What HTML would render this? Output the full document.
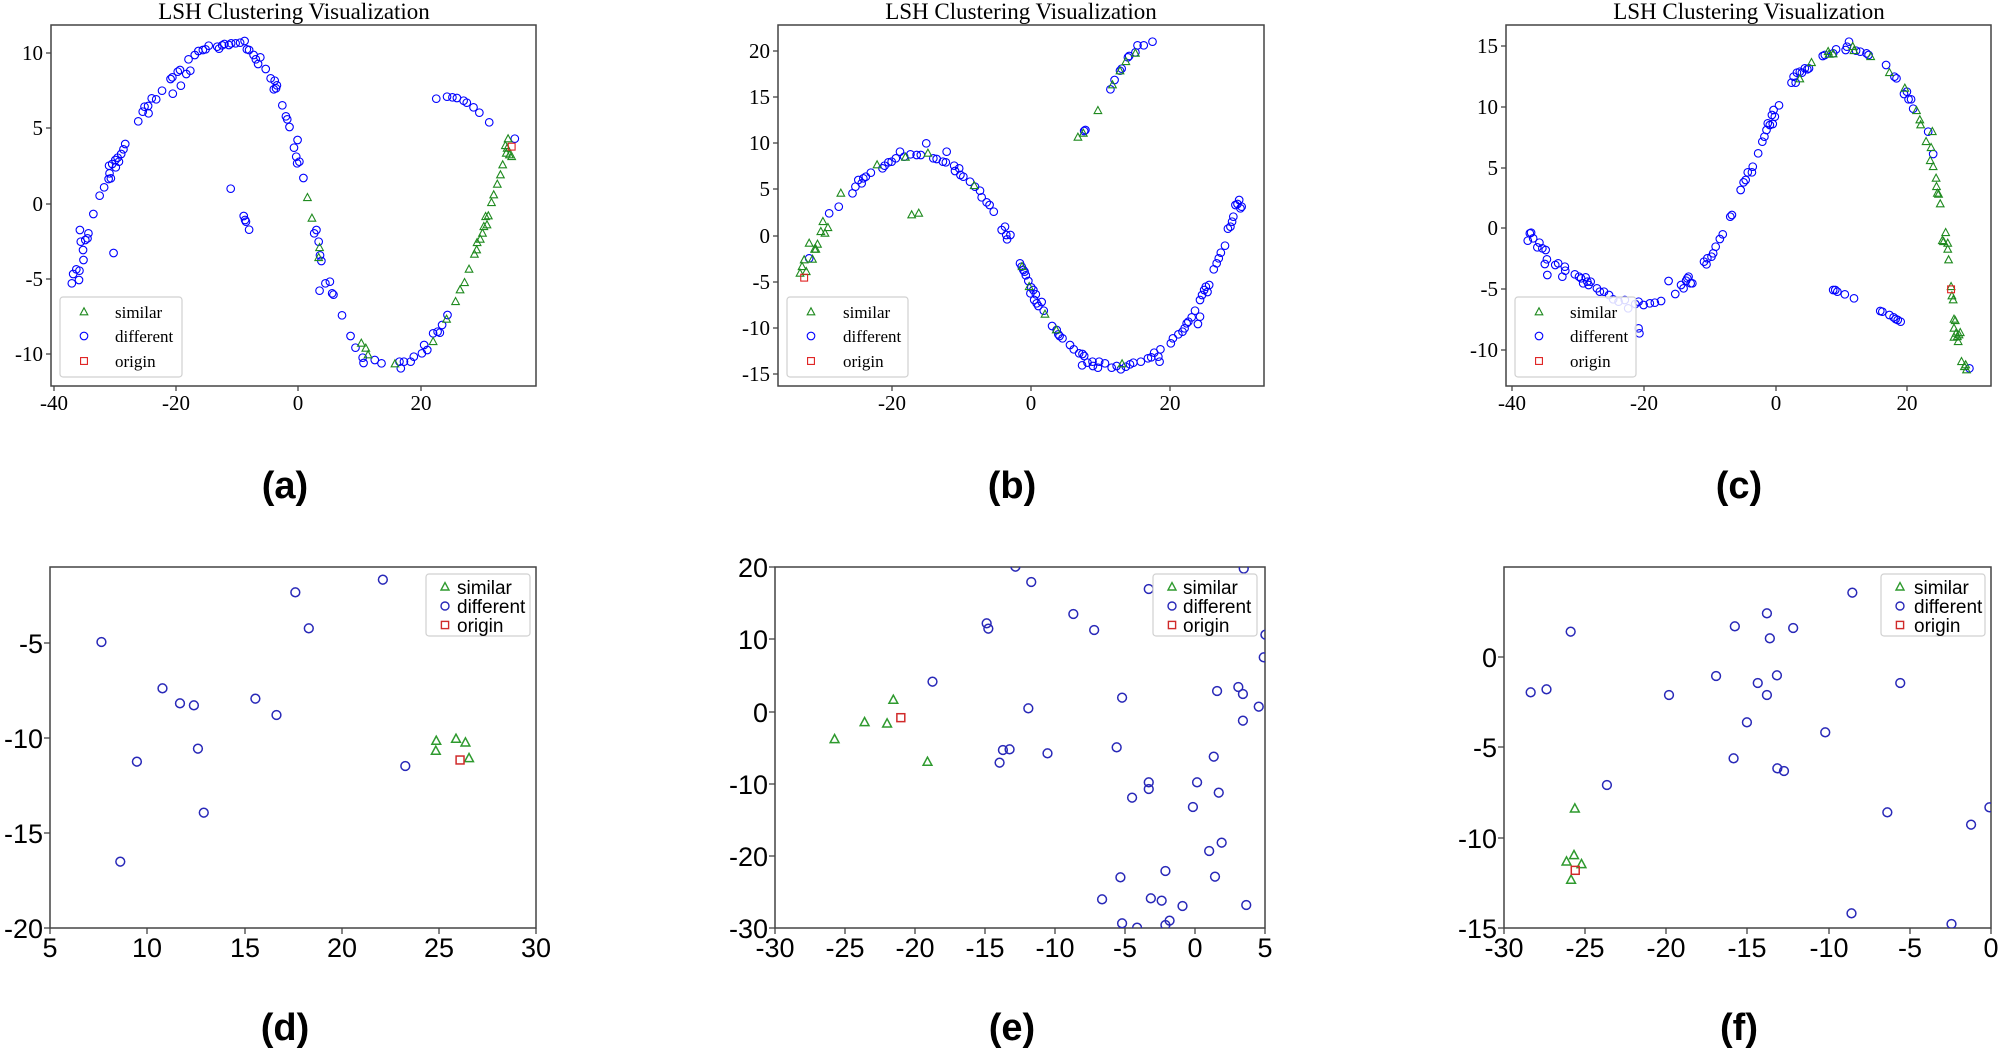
<!DOCTYPE html>
<html><head><meta charset="utf-8"><style>
html,body{margin:0;padding:0;background:#fff;}
svg{display:block;}
.t{font-family:"Liberation Serif",serif;font-size:21px;fill:#000;}
.tt{font-family:"Liberation Serif",serif;font-size:23px;fill:#000;}
.lt{font-family:"Liberation Serif",serif;font-size:17px;fill:#000;}
.b{font-family:"Liberation Sans","Noto Sans CJK SC",sans-serif;font-size:27px;fill:#000;}
.lb{font-family:"Liberation Sans","Noto Sans CJK SC",sans-serif;font-size:19px;fill:#000;}
.p{font-family:"Liberation Sans","Noto Sans CJK SC",sans-serif;font-size:38px;font-weight:bold;fill:#000;}
</style></head><body>
<svg id="s" width="2004" height="1048" xmlns="http://www.w3.org/2000/svg">
<defs>
<clipPath id="ca"><rect x="51" y="25" width="485" height="361"/></clipPath>
<clipPath id="cb"><rect x="778" y="25" width="486" height="361"/></clipPath>
<clipPath id="cc"><rect x="1506" y="25" width="485" height="361"/></clipPath>
<clipPath id="cd"><rect x="50" y="567" width="486" height="361"/></clipPath>
<clipPath id="ce"><rect x="775" y="567" width="490" height="361"/></clipPath>
<clipPath id="cf"><rect x="1504" y="567" width="487" height="361"/></clipPath>
</defs>
<g fill="none" stroke="#444" stroke-width="1.5">
<rect x="51" y="25" width="485" height="361"/>
<rect x="778" y="25" width="486" height="361"/>
<rect x="1506" y="25" width="485" height="361"/>
<rect x="50" y="567" width="486" height="361"/>
<rect x="775" y="567" width="490" height="361"/>
<rect x="1504" y="567" width="487" height="361"/>
</g>
<g id="ticks" stroke="#444" stroke-width="1.3"></g>
<g id="pts"></g>
<text class="tt" x="294" y="19" text-anchor="middle">LSH Clustering Visualization</text>
<text class="tt" x="1021" y="19" text-anchor="middle">LSH Clustering Visualization</text>
<text class="tt" x="1749" y="19" text-anchor="middle">LSH Clustering Visualization</text>
<g class="t" text-anchor="middle">
<text x="54" y="410">-40</text><text x="176" y="410">-20</text><text x="298" y="410">0</text><text x="421" y="410">20</text>
<text x="892" y="410">-20</text><text x="1031" y="410">0</text><text x="1170" y="410">20</text>
<text x="1512" y="410">-40</text><text x="1644" y="410">-20</text><text x="1776" y="410">0</text><text x="1907" y="410">20</text>
</g>
<g class="t" text-anchor="end">
<text x="43" y="60">10</text><text x="43" y="135">5</text><text x="43" y="211">0</text><text x="43" y="286">-5</text><text x="43" y="361">-10</text>
<text x="770" y="58">20</text><text x="770" y="104">15</text><text x="770" y="150">10</text><text x="770" y="196">5</text><text x="770" y="243">0</text><text x="770" y="289">-5</text><text x="770" y="335">-10</text><text x="770" y="381">-15</text>
<text x="1498" y="53">15</text><text x="1498" y="114">10</text><text x="1498" y="175">5</text><text x="1498" y="235">0</text><text x="1498" y="296">-5</text><text x="1498" y="357">-10</text>
</g>
<g class="b" text-anchor="middle">
<text x="50" y="957">5</text><text x="147" y="957">10</text><text x="245" y="957">15</text><text x="342" y="957">20</text><text x="439" y="957">25</text><text x="536" y="957">30</text>
<text x="775" y="957">-30</text><text x="845" y="957">-25</text><text x="915" y="957">-20</text><text x="985" y="957">-15</text><text x="1055" y="957">-10</text><text x="1125" y="957">-5</text><text x="1195" y="957">0</text><text x="1265" y="957">5</text>
<text x="1504" y="957">-30</text><text x="1585" y="957">-25</text><text x="1666" y="957">-20</text><text x="1747" y="957">-15</text><text x="1829" y="957">-10</text><text x="1910" y="957">-5</text><text x="1991" y="957">0</text>
</g>
<g class="b" text-anchor="end">
<text x="43" y="653">-5</text><text x="43" y="748">-10</text><text x="43" y="843">-15</text><text x="43" y="938">-20</text>
<text x="768" y="577">20</text><text x="768" y="649">10</text><text x="768" y="722">0</text><text x="768" y="794">-10</text><text x="768" y="866">-20</text><text x="768" y="938">-30</text>
<text x="1497" y="667">0</text><text x="1497" y="757">-5</text><text x="1497" y="848">-10</text><text x="1497" y="938">-15</text>
</g>
<g fill="rgba(255,255,255,0.85)" stroke="#d0d0d0" stroke-width="1.2">
<rect x="60" y="297" width="122" height="80" rx="3"/>
<rect x="787" y="297" width="121" height="80" rx="3"/>
<rect x="1515" y="297" width="121" height="80" rx="3"/>
<rect x="426" y="574" width="104" height="62" rx="3"/>
<rect x="1153" y="574" width="104" height="62" rx="3"/>
<rect x="1881" y="574" width="104" height="62" rx="3"/>
</g>
<g id="leg"></g>
<g class="lt">
<text x="115" y="318">similar</text><text x="115" y="342">different</text><text x="115" y="367">origin</text>
<text x="843" y="318">similar</text><text x="843" y="342">different</text><text x="843" y="367">origin</text>
<text x="1570" y="318">similar</text><text x="1570" y="342">different</text><text x="1570" y="367">origin</text>
</g>
<g class="lb">
<text x="457" y="594">similar</text><text x="457" y="613">different</text><text x="457" y="632">origin</text>
<text x="1183" y="594">similar</text><text x="1183" y="613">different</text><text x="1183" y="632">origin</text>
<text x="1914" y="594">similar</text><text x="1914" y="613">different</text><text x="1914" y="632">origin</text>
</g>
<g class="p" text-anchor="middle">
<text x="285" y="498">(a)</text><text x="1012" y="498">(b)</text><text x="1739" y="498">(c)</text>
<text x="285" y="1040">(d)</text><text x="1012" y="1040">(e)</text><text x="1739" y="1040">(f)</text>
</g>
</svg>
<script>
var NS="http://www.w3.org/2000/svg";
function el(p,n,a){var e=document.createElementNS(NS,n);for(var k in a)e.setAttribute(k,a[k]);p.appendChild(e);return e;}
var T=document.getElementById('ticks');
function xt(xs,y,len){xs.forEach(function(x){el(T,'line',{x1:x,y1:y,x2:x,y2:y+len});});}
function yt(ys,x,len){ys.forEach(function(y){el(T,'line',{x1:x,y1:y,x2:x-len,y2:y});});}
xt([54,176,298,421],386,5);yt([53,128,204,279,354],51,5);
xt([892,1031,1170],386,5);yt([51,97,143,189,236,282,328,374],778,5);
xt([1512,1644,1776,1907],386,5);yt([46,107,168,228,289,350],1506,5);
xt([50,147,245,342,439,536],928,6);yt([643,738,833,928],50,6);
xt([775,845,915,985,1055,1125,1195,1265],928,6);yt([567,639,712,784,856,928],775,6);
xt([1504,1585,1666,1747,1829,1910,1991],928,6);yt([657,747,838,928],1504,6);

function circ(g,x,y,r,c,w){el(g,'circle',{cx:x,cy:y,r:r,fill:'none',stroke:c,'stroke-width':w});}
function tri(g,x,y,r,c,w){el(g,'polygon',{points:(x)+','+(y-r*1.1)+' '+(x-r)+','+(y+r*0.75)+' '+(x+r)+','+(y+r*0.75),fill:'none',stroke:c,'stroke-width':w});}
function sq(g,x,y,r,c,w){el(g,'rect',{x:x-r*0.9,y:y-r*0.9,width:r*1.8,height:r*1.8,fill:'none',stroke:c,'stroke-width':w});}
var P=document.getElementById('pts');
function panel(clip,fx,ox,oy,blue,green,red,r,w,cb,cg,cr){
 var g=el(P,'g',{'clip-path':'url(#'+clip+')'});
 blue.forEach(function(p){circ(g,p[0]/fx+ox,p[1]/3+oy,r,cb,w);});
 green.forEach(function(p){tri(g,p[0]/fx+ox,p[1]/3+oy,r,cg,w);});
 red.forEach(function(p){sq(g,p[0]/fx+ox,p[1]/3+oy,r,cr,w);});
}
var TB='#0000ff',TG='#1f8a1f',TR='#e02020',BB='#2828b8',BG='#2e9a2e',BR='#d02a2a';
panel('ca',2.228,0,0,
[[160,850],[163,822],[170,808],[177,812],[176,840],[180,725],[178,690],[185,750],[186,780],[190,720],[195,715],[197,700],[208,642],[222,587],[232,562],[242,537],[247,535],[244,520],[243,497],[250,492],[257,480],[262,473],[258,502],[265,485],[270,462],[275,448],[279,432],[253,759],
[308,364],[318,335],[322,320],[330,318],[331,340],[338,295],[348,298],[361,272],[380,237],[384,232],[385,281],[396,215],[401,210],[403,257],[415,222],[420,178],[424,212],[434,165],[442,153],[452,150],[458,148],[465,137],[484,140],[488,146],[495,136],[500,132],[510,135],[515,130],[525,130],[535,128],[545,123],[550,148],[555,150],[565,165],[570,178],[575,192],[580,172],[592,207],[603,235],[612,242],[610,268],[617,256],[615,265],[629,316],[637,349],[640,358],[645,381],[655,443],[663,420],[660,470],[662,490],[667,485],[676,534],
[514,566],[543,648],[546,660],[548,665],[555,689],
[700,700],[705,690],[710,725],[713,766],[716,783],[712,872],[725,850],[735,845],[740,880],[743,884],[762,946],[781,1008],[792,1043],[808,1073],[810,1089],[835,1080],[850,1090],[890,1085],[893,1105],[900,1085],[915,1085],[922,1070],[940,1060],[945,1035],[952,1050],[965,1000],[975,995],[980,998],[985,975],[997,945],
[972,296],[996,290],[1008,292],[1018,294],[1033,302],[1040,308],[1055,322],[1068,338],[1090,367],[1147,416]],
[[685,593],[695,655],[712,743],[710,773],[805,1030],[815,1045],[820,1065],[880,1092],[965,1025],[995,958],[1015,905],[1025,870],[1035,848],[1045,808],[1057,763],[1062,750],[1063,728],[1070,718],[1075,700],[1078,680],[1085,675],[1088,648],[1082,650],[1095,608],[1100,585],[1108,553],[1115,525],[1120,495],[1128,460],[1130,445],[1126,437],[1132,417],[1135,465],[1140,470]],
[[1140,440]],3.8,1.1,TB,TG,TR);
panel('cb',2.4,700,0,
[[262,775],[310,640],[333,620],[366,580],[373,560],[380,540],[388,550],[392,535],[398,530],[410,518],[438,505],[443,497],[452,487],[460,485],[470,475],[480,455],[490,470],[505,463],[520,465],[530,465],[543,430],[560,475],[568,477],[583,485],[590,487],[592,455],[610,497],[612,513],[622,505],[625,525],[632,530],[648,545],[660,560],[672,572],[676,592],[688,607],[695,615],[705,635],[724,690],[732,680],[735,705],[737,718],[745,705],
[768,790],[772,800],[776,810],[779,815],[782,826],[788,843],[795,862],[793,880],[800,870],[806,883],[802,900],[808,910],[812,918],[820,906],[825,932],[845,978],[856,990],[860,1003],[863,1008],[870,1015],[888,1035],[897,1048],[910,1060],[918,1062],[922,1068],[917,1096],[930,1088],[942,1085],[943,1098],[955,1103],[958,1085],[972,1090],[988,1103],[1000,1098],[1010,1108],[1022,1100],[1032,1093],[1040,1088],[1058,1085],[1075,1075],[1083,1072],[1090,1058],[1100,1070],[1103,1085],[1105,1048],[1130,1030],[1135,1015],[1148,1003],[1158,995],[1163,985],[1168,970],[1172,965],[1180,952],[1188,932],[1195,972],[1200,950],[1200,900],[1205,885],[1210,870],[1214,860],[1218,876],[1222,855],[1233,808],[1240,790],[1245,775],[1250,758],[1260,737],[1267,686],[1273,680],[1277,665],[1280,650],[1285,615],[1290,612],[1294,600],[1297,625],[1300,620],
[922,393],[925,390],[985,268],[995,240],[1008,212],[1012,206],[1027,172],[1030,168],[1045,157],[1050,136],[1065,136],[1086,125]],
[[240,820],[245,800],[250,780],[255,815],[262,730],[270,778],[275,748],[282,733],[278,748],[290,695],[295,665],[300,700],[307,683],[338,580],[425,495],[493,472],[508,645],[525,640],[547,460],[658,557],[773,800],[790,860],[828,943],[855,990],[907,412],[920,400],[955,332],[990,255],[1008,213],[1022,185],[1045,160],[1013,1092]],
[[250,833]],3.8,1.1,TB,TG,TR);
panel('cc',2.4,1354,0,
[[417,722],[422,700],[425,698],[430,715],[440,742],[445,728],[452,745],[460,750],[463,778],[458,792],[464,825],[483,795],[490,790],[500,830],[506,800],[507,812],[530,823],[540,830],[545,835],[550,850],[556,832],[560,845],[563,855],[568,845],[583,865],[590,875],[600,875],[612,885],[622,898],[635,905],[650,900],[658,925],[675,912],[683,905],[685,1000],[683,985],[695,915],[710,910],[722,908],[737,903],[755,843],[771,882],[785,855],[791,865],[797,842],[800,835],[803,830],[808,850],[812,850],[840,785],[846,793],[848,775],[858,770],[862,760],[868,740],[878,717],[885,703],[903,650],[907,645],[928,570],[935,547],[940,540],[945,517],[955,517],[957,500],[970,460],[980,425],[985,410],[990,390],[993,370],[998,375],[1003,345],[1005,372],[1010,350],[1007,330],[1020,316],
[1050,248],[1055,230],[1060,248],[1063,218],[1070,215],[1075,218],[1082,205],[1088,208],[1092,205],[1125,168],[1130,165],[1150,160],[1157,148],[1180,150],[1183,140],[1188,125],[1205,152],[1215,155],[1230,160],[1235,165],[1277,195],[1297,230],[1302,235],[1320,282],[1327,275],[1331,298],[1337,298],[1342,326],[1378,395],[1390,462],
[1150,870],[1155,870],[1160,875],[1178,883],[1200,895],[1263,933],[1268,935],[1285,945],[1295,952],[1300,957],[1305,960],[1312,965],[1477,1105]],
[[1070,237],[1098,188],[1138,155],[1140,163],[1150,162],[1197,140],[1200,152],[1240,170],[1285,218],[1322,265],[1350,332],[1358,360],[1360,375],[1388,395],[1373,425],[1385,443],[1383,482],[1390,500],[1397,535],[1398,560],[1400,580],[1403,583],[1407,612],[1420,698],[1415,725],[1412,722],[1425,730],[1425,748],[1427,780],[1433,860],[1435,888],[1438,900],[1440,958],[1443,962],[1440,985],[1445,1000],[1440,1012],[1448,1010],[1452,1005],[1455,998],[1450,1025],[1458,1085],[1465,1100],[1470,1110],[1468,1095]],
[[1433,868]],3.8,1.1,TB,TG,TR);
panel('cd',2.228,0,540,
[[226,306],[658,157],[853,119],[688,265],[362,445],[401,490],[432,496],[569,476],[616,525],[441,626],[305,665],[903,678],[454,818],[268,965]],
[[972,603],[971,633],[1016,597],[1037,608],[1045,655]],
[[1025,660]],4.4,1.5,BB,BG,BR);
panel('ce',2.4,700,540,
[[757,80],[1305,86],[795,126],[1077,147],[896,222],[688,250],[692,266],[946,270],[1357,284],[1353,352],[558,425],[1292,441],[1241,453],[1303,462],[1013,473],[788,505],[1341,500],[1303,542],[1000,622],[727,630],[743,628],[834,640],[719,668],[1233,650],[1077,727],[1193,727],[1077,747],[1245,758],[1037,773],[1183,801],[1252,908],[1222,933],[1117,993],[1009,1012],[1236,1010],[965,1078],[1082,1075],[1108,1082],[1158,1098],[1311,1095],[1013,1150],[1049,1163],[1127,1142],[1117,1155]],
[[464,480],[395,547],[449,551],[323,598],[546,666]],
[[482,533]],4.4,1.5,BB,BG,BR);
panel('cf',2.4,1354,540,
[[1196,158],[991,220],[914,259],[1054,264],[520,275],[998,295],[869,408],[1015,406],[969,429],[1311,429],[424,457],[462,448],[756,465],[991,465],[943,547],[1131,577],[911,655],[1016,685],[1032,693],[607,735],[1280,817],[1525,802],[1481,854],[1194,1120],[1434,1152]],
[[530,806],[528,946],[510,965],[546,973],[521,1020]],
[[531,991]],4.4,1.5,BB,BG,BR);
var L=document.getElementById('leg');
[84,811,1539].forEach(function(x){tri(L,x,312,3.8,TG,1.1);circ(L,x,336,3.8,TB,1.1);sq(L,x,361,3.8,TR,1.1);});
[445,1172,1900].forEach(function(x){tri(L,x,587,4,BG,1.4);circ(L,x,606,4,BB,1.4);sq(L,x,625,4,BR,1.4);});
</script>
</body></html>
